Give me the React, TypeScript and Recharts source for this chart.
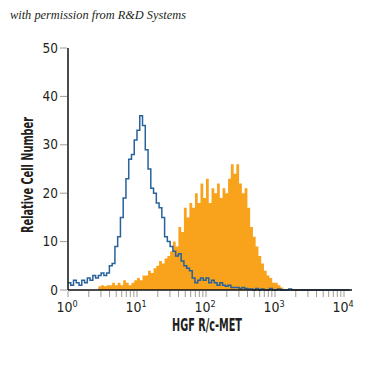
import { ComposedChart, Area, Line, XAxis, YAxis } from "recharts";

// histogram bins, log10 of fluorescence, 0.04 wide
const binStep = 0.04;

const isotype = [
  1.5, 1, 2, 1.5, 1,
  2, 1.5, 2.5, 2, 3, 2.5, 3,
  3.5, 3, 3.5,
  5, 5.5,
  9, 11,
  15, 19,
  23,
  27, 28,
  31, 33,
  36, 34, 29, 25, 21, 20, 18, 17, 15, 11, 10, 9, 8, 7, 7.5, 6, 5, 4.5, 4,
  2.5, 1.5, 2, 2.5, 2, 2.5, 1.5,
  2, 1.5, 1, 1.5,
  1, 0.8, 1, 0.5, 0.5,
  0.5, 0.3, 0.5, 0.3, 0.2,
  0.2, 0, 0.3, 0, 0.2, 0, 0, 0.3, 0, 0, 0.2, 0, 0, 0, 0.2, 0, 0, 0, 0, 0,
  0, 0, 0, 0, 0, 0, 0, 0, 0, 0, 0, 0, 0, 0, 0, 0, 0,
];

const hgfr = [
  0, 0, 0, 0, 0, 0, 0, 0, 0, 0, 0,
  0.8, 1, 0.8, 1, 1, 1.5,
  1, 1.5, 1, 2, 1.5, 1,
  1.5, 2, 2.5, 2, 3,
  3, 4, 3.5,
  4.5, 5, 6,
  5.5, 6.5, 7,
  8, 10,
  9, 13, 12, 17, 15, 18, 17, 20, 18, 22, 19, 23, 18, 21, 20, 22, 19, 21, 20, 23,
  26, 24, 26, 22, 20, 21, 17, 13, 11, 9, 7, 5.5, 4, 3, 2.5, 1.5, 1.5, 1, 0.5,
  0, 0, 0, 0, 0, 0, 0, 0, 0, 0, 0, 0, 0, 0, 0, 0, 0, 0, 0, 0, 0, 0, 0, 0, 0,
];

const decades = [0, 1, 2, 3, 4];
const yTicks = [0, 10, 20, 30, 40, 50];

const data = isotype.map((v, i) => ({ x: i * binStep, isotype: v, hgfr: hgfr[i] }));

// decade ticks plus the 2..9 minor ticks in each decade
const xTicks = decades.flatMap(d =>
  d < 4 ? [d, ...[2, 3, 4, 5, 6, 7, 8, 9].map(m => d + Math.log10(m))] : [d]
);

const FONT = "'Liberation Sans Narrow', 'DejaVu Sans Condensed', 'Roboto', sans-serif";
const TEXT = "#231f20";
const TICK = "#a09a92";

// eslint-disable-next-line @typescript-eslint/no-explicit-any
const XTick = ({ x, y, payload }: any) => {
  const v = payload.value;
  const major = Math.abs(v - Math.round(v)) < 1e-6;
  return (
    <g>
      <line x1={x} x2={x} y1={y + 1} y2={y + 7} stroke={TICK} strokeWidth={1} />
      {major && (
        <text x={x - 1} y={y + 22} textAnchor="middle" fontFamily={FONT} fontSize={14} fill={TEXT}>
          <tspan>10</tspan>
          <tspan dy={-5} fontSize={9}>{Math.round(v)}</tspan>
        </text>
      )}
    </g>
  );
};

// eslint-disable-next-line @typescript-eslint/no-explicit-any
const YTick = ({ x, y, payload }: any) => (
  <g>
    <line x1={x - 8} x2={x - 1} y1={y} y2={y} stroke={TICK} strokeWidth={1} />
    <text x={x - 10} y={y + 4.5} textAnchor="end" fontFamily={FONT} fontSize={13.5} fill={TEXT}>
      {payload.value}
    </text>
  </g>
);

export default function App() {
  return (
    <div style={{ position: "absolute", left: 0, top: 0, width: 375, height: 375, background: "#fff" }}>
      <ComposedChart width={375} height={375} data={data} margin={{ top: 48, right: 23, bottom: 55, left: 38 }}>
        <XAxis
          dataKey="x"
          type="number"
          domain={[0, 4.116]}
          ticks={xTicks}
          interval={0}
          allowDataOverflow
          height={30}
          tickSize={0}
          tickMargin={0}
          tickLine={false}
          tick={<XTick />}
          axisLine={{ stroke: "#111", strokeWidth: 1.5 }}
        />
        <YAxis
          type="number"
          domain={[0, 50]}
          ticks={yTicks}
          interval={0}
          width={30}
          tickSize={0}
          tickMargin={0}
          tickLine={false}
          tick={<YTick />}
          axisLine={{ stroke: "#111", strokeWidth: 1.5 }}
        />
        <Area
          type="stepAfter"
          dataKey="hgfr"
          stroke="none"
          fill="#f9a21c"
          fillOpacity={1}
          dot={false}
          activeDot={false}
          isAnimationActive={false}
        />
        <Line
          type="stepAfter"
          dataKey="isotype"
          stroke="#27639a"
          strokeWidth={1.5}
          dot={false}
          activeDot={false}
          isAnimationActive={false}
        />
      </ComposedChart>
      <svg width={375} height={375} style={{ position: "absolute", left: 0, top: 0, pointerEvents: "none" }}>
        <text
          x={10}
          y={19}
          fontFamily="'Liberation Serif', 'DejaVu Serif', serif"
          fontStyle="italic"
          fontSize={11.5}
          fill={TEXT}
          textLength={176}
          lengthAdjust="spacingAndGlyphs"
        >
          with permission from R&amp;D Systems
        </text>
        <text
          transform="translate(33,175) rotate(-90)"
          textAnchor="middle"
          fontFamily={FONT}
          fontWeight="bold"
          fontSize={16}
          fill={TEXT}
          textLength={116}
          lengthAdjust="spacingAndGlyphs"
        >
          Relative Cell Number
        </text>
        <text
          x={207}
          y={331}
          textAnchor="middle"
          fontFamily={FONT}
          fontWeight="bold"
          fontSize={18}
          fill={TEXT}
          textLength={70}
          lengthAdjust="spacingAndGlyphs"
        >
          HGF R/c-MET
        </text>
      </svg>
    </div>
  );
}
